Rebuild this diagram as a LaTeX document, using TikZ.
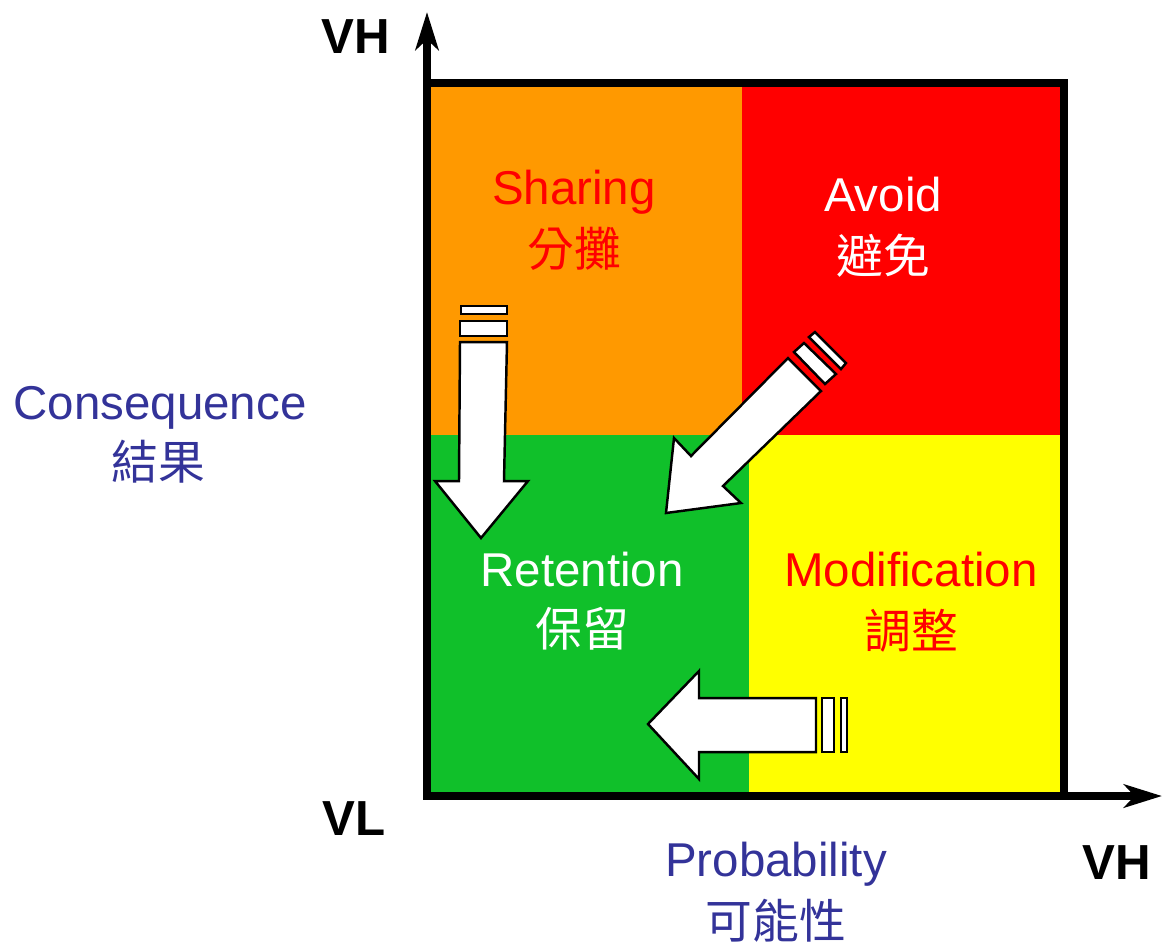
\documentclass[tikz,border=0pt]{standalone}
\usepackage{fontspec}
\setmainfont{Liberation Sans}
\newfontfamily\cjkfont{Noto Sans CJK TC}
\usepackage{tikz}
\usetikzlibrary{arrows.meta}
\usepackage{xcolor}
\definecolor{riskorange}{RGB}{255,153,0}
\definecolor{riskred}{RGB}{255,0,0}
\definecolor{riskgreen}{RGB}{16,192,42}
\definecolor{riskyellow}{RGB}{255,255,0}
\definecolor{axisblue}{RGB}{51,51,153}

\begin{document}
\begin{tikzpicture}[x=0.01cm,y=-0.01cm,
  lbl/.style={font=\fontsize{13.5}{15}\selectfont, anchor=base},
  cjk/.style={font=\fontsize{13.3}{15}\selectfont\cjkfont},
  vlbl/.style={font=\fontsize{14}{16}\selectfont\bfseries, anchor=base},
  blockarrow/.style={fill=white, draw=black, line width=0.7pt, line join=miter},
  axis/.style={line width=2.3pt, -{Stealth[length=10.8pt,width=6.6pt,inset=3pt]}}]
\useasboundingbox (0,0) rectangle (1163,947);
%quadrants
\fill[riskorange] (427,83) rectangle (742,435);
\fill[riskred] (742,83) rectangle (1064,435);
\fill[riskgreen] (427,435) rectangle (749,796);
\fill[riskyellow] (749,435) rectangle (1064,796);
%axes
\coordinate (origin) at (427,796);
\coordinate (ytip) at (427,12);
\coordinate (xtip) at (1162,796);
\draw[axis] (origin) -- (ytip);
\draw[axis] (origin) -- (xtip);
\draw[line width=2.3pt] (427,83) rectangle (1064,796);

%block arrows
%down
\draw[blockarrow] (460,342) -- (507,342) -- (504,481) -- (528,481) -- (481,538) -- (435,481) -- (459,481) -- cycle;
\draw[blockarrow] (461,306) rectangle (507,314);
\draw[blockarrow] (460,321) rectangle (507,336);
%diagonal
\draw[blockarrow] (788,358) -- (821,391) -- (723,486) -- (741,503) -- (666,513) -- (674,438) -- (691,456) -- cycle;
\draw[blockarrow] (794,352) -- (804,343) -- (836,374) -- (825,384) -- cycle;
\draw[blockarrow] (809,337) -- (815,332) -- (846,363) -- (841,369) -- cycle;
%left
\draw[blockarrow] (648,724) -- (699,671) -- (699,698) -- (816,698) -- (816,752) -- (699,752) -- (699,779) -- cycle;
\draw[blockarrow] (822,698) rectangle (834,752);
\draw[blockarrow] (841,698) rectangle (847,752);

%quadrant labels
\node[lbl, text=riskred] (sharing) at (574,204) {Sharing};
\node[cjk, text=riskred] (sharingzh) at (574,249) {分攤};
\node[lbl, text=white] (avoid) at (883,211) {Avoid};
\node[cjk, text=white] (avoidzh) at (883,256) {避免};
\node[lbl, text=white] (retention) at (582,586) {Retention};
\node[cjk, text=white] (retentionzh) at (582,629) {保留};
\node[lbl, text=riskred] (modification) at (911,586) {Modification};
\node[cjk, text=riskred] (modificationzh) at (911,631) {調整};

%axis labels
\node[lbl, text=axisblue] (consequence) at (160,419) {Consequence};
\node[cjk, text=axisblue] (consequencezh) at (158,462) {結果};
\node[lbl, text=axisblue] (probability) at (776,876) {Probability};
\node[cjk, text=axisblue] (probabilityzh) at (776,921) {可能性};
\node[vlbl] (vhtop) at (356,53) {VH};
\node[vlbl] (vl) at (354,835) {VL};
\node[vlbl] (vhright) at (1117,879) {VH};
\end{tikzpicture}
\end{document}
